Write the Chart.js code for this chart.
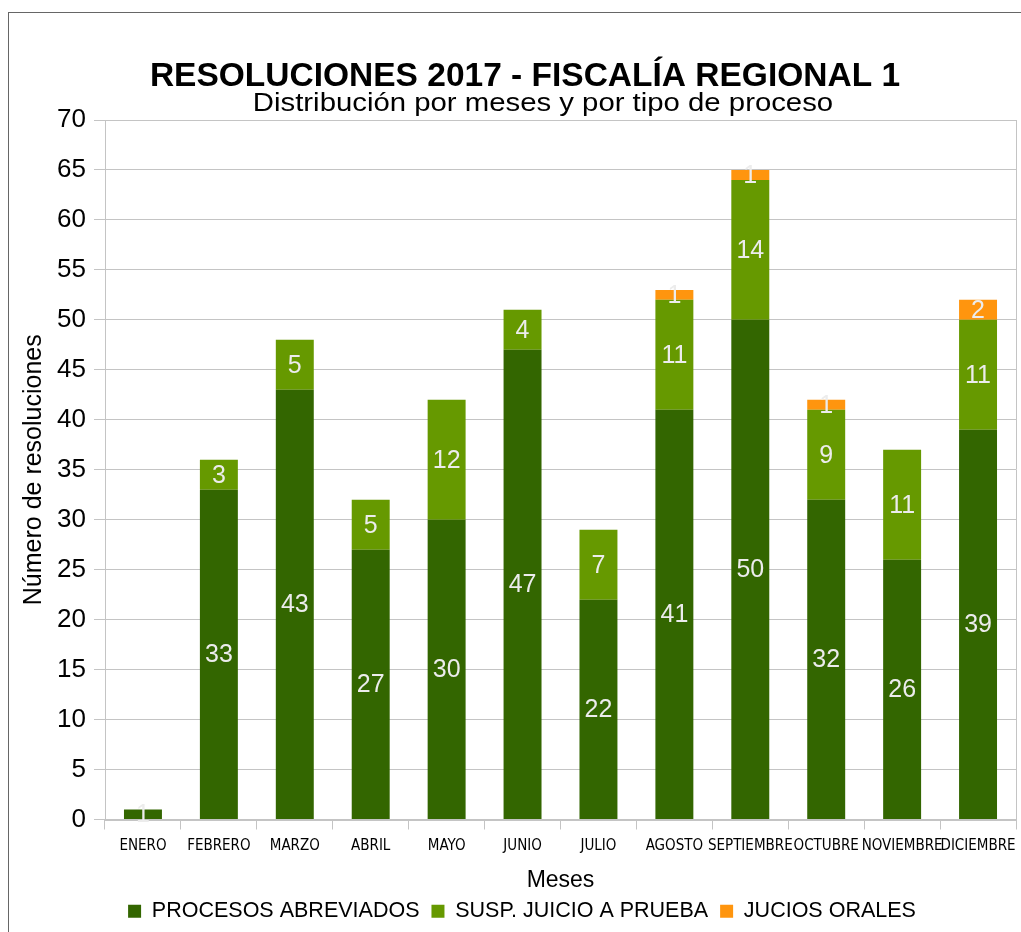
<!DOCTYPE html>
<html>
<head>
<meta charset="utf-8">
<script src="https://cdn.jsdelivr.net/npm/chart.js@4/dist/chart.umd.min.js"></script>
<style>
	body { margin: 0; background: #fff; }
	#marco { position: absolute; left: 8px; top: 12px; width: 1100px; height: 1000px; border-left: 1px solid #666; border-top: 1px solid #666; }
	#chart { position: absolute; left: 0; top: 0; }
</style>
</head>
<body>
<div id="marco"></div>
<canvas id="chart" width="1021" height="932"></canvas>
<script>
// datos
var meses = ['ENERO', 'FEBRERO', 'MARZO', 'ABRIL', 'MAYO', 'JUNIO', 'JULIO', 'AGOSTO', 'SEPTIEMBRE', 'OCTUBRE', 'NOVIEMBRE', 'DICIEMBRE'];
var abreviados = [1, 33, 43, 27, 30, 47, 22, 41, 50, 32, 26, 39];
var suspJuicio = [0, 3, 5, 5, 12, 4, 7, 11, 14, 9, 11, 11];
var juiciosOrales = [0, 0, 0, 0, 0, 0, 0, 1, 1, 1, 0, 2];

var titulo = 'RESOLUCIONES 2017 - FISCALÍA REGIONAL 1';
var subtitulo = 'Distribución por meses y por tipo de proceso';

var gris = '#c4c4c4';

// etiquetas dentro de las barras
var etiquetas = {
	id: 'etiquetas',
	afterDatasetsDraw: function(chart){
		var ctx = chart.ctx;
		ctx.save();
		ctx.font = '25px "Liberation Sans", Arial, sans-serif';
		ctx.fillStyle = '#ececec';
		ctx.textAlign = 'center';
		ctx.textBaseline = 'middle';
		chart.data.datasets.forEach(function(ds, i){
			var meta = chart.getDatasetMeta(i);
			meta.data.forEach(function(bar, j){
				if(!ds.data[j]) return;
				ctx.fillText(ds.data[j], bar.x, (bar.y + bar.base) / 2 + 1);
			});
		});
		ctx.restore();
	}
};

// titulo y subtitulo (el subtitulo viene un poco estirado en el original)
var titulos = {
	id: 'titulos',
	afterDraw: function(chart){
		var ctx = chart.ctx;
		ctx.save();
		ctx.fillStyle = '#000';
		ctx.textAlign = 'center';
		ctx.textBaseline = 'alphabetic';
		ctx.font = 'bold 33.5px "Liberation Sans", Arial, sans-serif';
		ctx.fillText(titulo, 525, 86);
		ctx.font = '26px "Liberation Sans", Arial, sans-serif';
		ctx.translate(543, 111);
		ctx.scale(1.128, 1);
		ctx.fillText(subtitulo, 0, 0);
		ctx.restore();
	}
};

var ctx = document.getElementById('chart').getContext('2d');
var mychart = new Chart(ctx, {
	type: 'bar',
	data: {
		labels: meses,
		datasets: [{
			label: 'PROCESOS ABREVIADOS',
			data: abreviados,
			backgroundColor: '#336600'
		}, {
			label: 'SUSP. JUICIO A PRUEBA',
			data: suspJuicio,
			backgroundColor: '#669900'
		}, {
			label: 'JUCIOS ORALES',
			data: juiciosOrales,
			backgroundColor: '#ff950e'
		}]
	},
	options: {
		responsive: false,
		animation: false,
		devicePixelRatio: 1,
		layout: { padding: { top: 120, left: 28, right: 5, bottom: 0 } },
		datasets: { bar: { barPercentage: 0.5, categoryPercentage: 1.0 } },
		scales: {
			x: {
				stacked: true,
				afterFit: function(scale){
					scale.height = 69;
					scale.paddingLeft = 0;
					scale.paddingRight = 0;
				},
				grid: {
					offset: true,
					color: function(c){ return c.type === 'scale' ? gris : 'rgba(0,0,0,0)'; },
					tickColor: gris,
					tickLength: 10,
					lineWidth: 1
				},
				border: { color: gris, width: 2 },
				ticks: {
					autoSkip: false,
					maxRotation: 0,
					padding: 8,
					color: '#000',
					font: { family: '"Liberation Sans Narrow", "DejaVu Sans Condensed", sans-serif', size: 15 }
				},
				title: {
					display: true,
					text: 'Meses',
					color: '#000',
					padding: { top: 0, bottom: -4 },
					font: { family: '"Liberation Sans", Arial, sans-serif', size: 23, lineHeight: 1 }
				}
			},
			y: {
				stacked: true,
				min: 0,
				max: 70,
				afterFit: function(scale){ scale.width = 77; },
				grid: { color: gris, tickColor: gris, tickLength: 11 },
				border: { color: gris },
				ticks: {
					stepSize: 5,
					padding: 8,
					color: '#000',
					font: { family: '"Liberation Sans", Arial, sans-serif', size: 26 }
				},
				title: {
					display: true,
					text: 'Número de resoluciones',
					color: '#000',
					padding: { top: -6, bottom: 0 },
					font: { family: '"Liberation Sans", Arial, sans-serif', size: 25, lineHeight: 1 }
				}
			}
		},
		plugins: {
			legend: {
				position: 'bottom',
				labels: {
					boxWidth: 13,
					boxHeight: 13,
					padding: 12,
					color: '#000',
					font: { family: '"Liberation Sans", Arial, sans-serif', size: 21.5 }
				}
			},
			tooltip: { enabled: false }
		}
	},
	plugins: [etiquetas, titulos]
});
</script>
</body>
</html>
